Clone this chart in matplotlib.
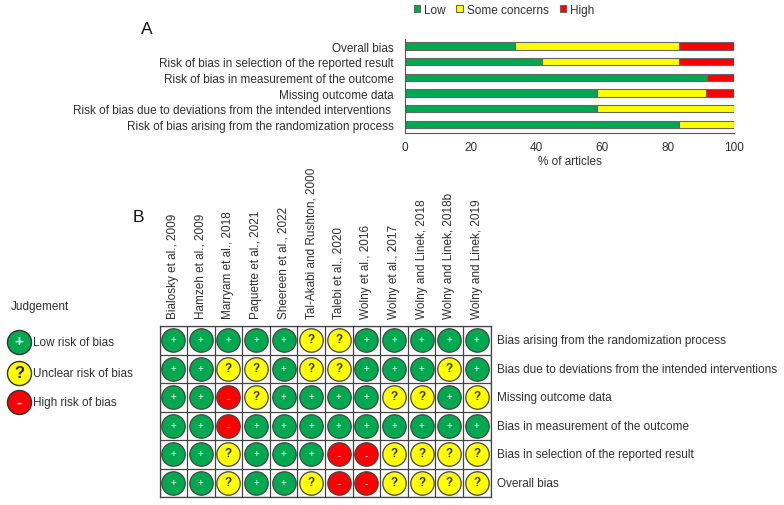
import matplotlib
matplotlib.use("Agg")
import matplotlib.pyplot as plt
import numpy as np

plt.rcParams['font.family'] = ['Liberation Sans', 'DejaVu Sans']

# Panel A data
bias_domains = ["Overall bias", "Risk of bias in selection of the reported result",
                "Risk of bias in measurement of the outcome", "Missing outcome data",
                "Risk of bias due to deviations from the intended interventions ",
                "Risk of bias arising from the randomization process"]
low = [33.3, 41.7, 91.7, 58.3, 58.3, 83.3]
some = [50.0, 41.7, 0.0, 33.3, 41.7, 16.7]
high = [16.7, 16.6, 8.3, 8.4, 0.0, 0.0]

# Panel B data
studies = ["Bialosky et al., 2009", "Hamzeh et al., 2009", "Marryam et al., 2018",
           "Paquette et al., 2021", "Sheereen et al., 2022", "Tal-Akabi and Rushton, 2000",
           "Talebi et al., 2020", "Wolny et al., 2016", "Wolny et al., 2017",
           "Wolny and Linek, 2018", "Wolny and Linek, 2018b", "Wolny and Linek, 2019"]
rows = ["Bias arising from the randomization process",
        "Bias due to deviations from the intended interventions",
        "Missing outcome data", "Bias in measurement of the outcome",
        "Bias in selection of the reported result", "Overall bias"]
judgement = ["+++++??+++++",
             "++??+??+++?+",
             "++-?++++??+?",
             "++-+++++++++",
             "++?+++--????",
             "++?++?--????"]
legend_labels = ["Low risk of bias", "Unclear risk of bias", "High risk of bias"]
legend_marks = ["+", "?", "-"]

W, H = 784, 506
GREEN, YELLOW, RED = "#00a84f", "#ffff00", "#ff0000"
colors = {"+": GREEN, "?": YELLOW, "-": RED}
TXT = "#303030"
FS = 8.5

def px_axes(l, t, r, b):
    return fig.add_axes([l / W, 1 - b / H, (r - l) / W, (b - t) / H])

fig = plt.figure(figsize=(W / 100, H / 100), dpi=100)

# Panel A
ax = px_axes(405, 40, 734, 134)
y = np.arange(len(bias_domains))
left = np.zeros(len(y))
for vals, c, name in zip([low, some, high], [GREEN, YELLOW, RED], ["Low", "Some concerns", "High"]):
    ax.barh(y, vals, left=left, height=0.46, color=c, edgecolor="#666666", linewidth=0.8, label=name)
    left = left + np.array(vals)
ax.set_xlim(0, 100)
ax.set_ylim(5.55, -0.45)
ax.set_yticks(y, bias_domains, fontsize=FS, color=TXT)
ax.set_xticks(range(0, 101, 20))
ax.tick_params(axis='x', labelsize=FS, colors=TXT, length=0, pad=6)
ax.tick_params(axis='y', length=0, pad=8)
ax.set_xlabel("% of articles", fontsize=FS, color=TXT, labelpad=1)
for s in ["top", "right"]:
    ax.spines[s].set_visible(False)
for s in ["left", "bottom"]:
    ax.spines[s].set_color("#555555")
    ax.spines[s].set_linewidth(0.8)
ax.legend(loc="center", bbox_to_anchor=(0.301, 1.31), ncol=3, frameon=False, fontsize=FS,
          handlelength=0.55, handleheight=0.55, handletextpad=0.35, columnspacing=0.9,
          labelcolor=TXT, borderpad=0)

fig.text(140.5 / W, 1 - 30 / H, "A", fontsize=12.5, color="#111111", va="center")
fig.text(133 / W, 1 - 218 / H, "B", fontsize=12.5, color="#111111", va="center")

# Panel B
bx = px_axes(159.5, 327, 490.5, 498)
nr, nc = len(rows), len(studies)
for i, line in enumerate(judgement):
    for j, m in enumerate(line):
        bx.scatter(j + 0.5, i + 0.5, s=285, color=colors[m], edgecolor="#444444", linewidth=0.9, zorder=3)
        bx.text(j + 0.5, i + 0.47 if m != "-" else i + 0.52, m, ha="center", va="center", zorder=4,
                fontsize=8.5 if m == "?" else 7, fontweight="bold" if m == "?" else "normal",
                color="#333300" if m == "?" else "white")
bx.set_xlim(0, nc)
bx.set_ylim(nr, 0)
bx.set_xticks(np.arange(nc + 1))
bx.set_yticks(np.arange(nr + 1))
bx.grid(True, color="#444444", linewidth=0.9)
bx.set_axisbelow(True)
bx.tick_params(length=0, labelbottom=False, labelleft=False)
for s in bx.spines.values():
    s.set_color("#444444")
    s.set_linewidth(0.9)
for j, st in enumerate(studies):
    bx.annotate(st, (j + 0.5, 0), xytext=(0, 6), textcoords="offset points", rotation=90,
                ha="center", va="bottom", fontsize=FS, color=TXT)
for i, r in enumerate(rows):
    bx.annotate(r, (nc, i + 0.5), xytext=(5, 0), textcoords="offset points",
                ha="left", va="center", fontsize=FS, color=TXT, annotation_clip=False)

# Judgement legend
lx = px_axes(0, 290, 160, 430)
lx.set_xlim(0, 160)
lx.set_ylim(140, 0)
lx.axis("off")
lx.text(11, 17, "Judgement", fontsize=FS, color=TXT, va="center")
for k, (lab, m) in enumerate(zip(legend_labels, legend_marks)):
    yy = [53, 84, 113][k]
    lx.scatter(19, yy, s=300, color=colors[m], edgecolor="#333333", linewidth=1.0, zorder=3)
    lx.text(19, yy - 0.5, m, ha="center", va="center", zorder=4,
            fontsize=12 if m == "?" else 11, fontweight="bold",
            color="#222222" if m == "?" else "white")
    lx.text(33, yy, lab, fontsize=FS, color=TXT, va="center")

fig.savefig("out.png", dpi=100)
